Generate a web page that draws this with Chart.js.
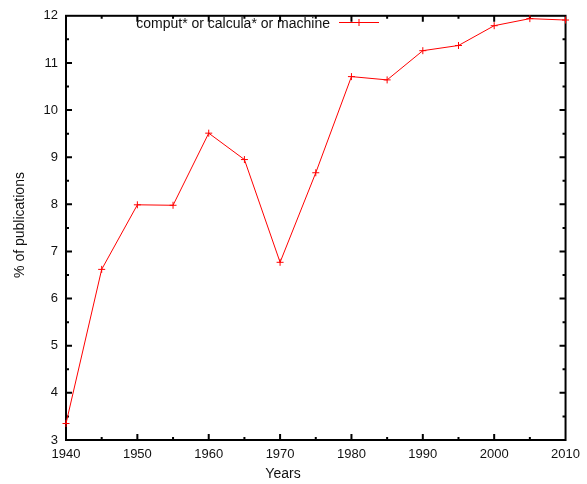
<!DOCTYPE html>
<html>
<head>
<meta charset="utf-8">
<script src="https://cdn.jsdelivr.net/npm/chart.js@4.4.0/dist/chart.umd.min.js"></script>
<style>
  html, body { margin: 0; padding: 0; background: #fff; }
  #wrap { width: 587px; height: 484px; }
</style>
</head>
<body>
<div id="wrap"><canvas id="myChart"></canvas></div>
<script>
'use strict';

const years = [1940, 1945, 1950, 1955, 1960, 1965, 1970, 1975, 1980, 1985, 1990, 1995, 2000, 2005, 2010];
const percentages = [3.35, 6.62, 7.99, 7.98, 9.51, 8.95, 6.77, 8.67, 10.71, 10.64, 11.26, 11.37, 11.79, 11.94, 11.91];
const seriesLabel = 'comput* or calcula* or machine';
const xTitle = 'Years';
const yTitle = '% of publications';
const xRange = [1940, 2010];
const yRange = [3, 12];

const FONT = '"Liberation Sans", Arial, Helvetica, sans-serif';
const ctx = document.getElementById('myChart');

// gnuplot look: thick border, inward ticks on all sides, key drawn by hand
const gnuplotFrame = {
  id: 'gnuplotFrame',
  beforeDatasetsDraw(chart) {
    const { ctx, chartArea: a, scales: { x, y } } = chart;
    ctx.save();
    ctx.strokeStyle = '#000';
    ctx.lineWidth = 2;
    ctx.strokeRect(a.left, a.top, a.right - a.left, a.bottom - a.top);

    ctx.beginPath();
    for (let v = xRange[0] + 5; v < xRange[1]; v += 5) {
      const px = x.getPixelForValue(v);
      const len = (v % 10 === 0) ? 6 : 3;
      ctx.moveTo(px, a.bottom); ctx.lineTo(px, a.bottom - len);
      ctx.moveTo(px, a.top); ctx.lineTo(px, a.top + len);
    }
    for (let v = yRange[0] + 0.5; v < yRange[1]; v += 0.5) {
      const py = y.getPixelForValue(v);
      const len = (v % 1 === 0) ? 6 : 3;
      ctx.moveTo(a.left, py); ctx.lineTo(a.left + len, py);
      ctx.moveTo(a.right, py); ctx.lineTo(a.right - len, py);
    }
    ctx.stroke();
    ctx.restore();
  },
  afterDraw(chart) {
    const { ctx } = chart;
    ctx.save();
    ctx.fillStyle = '#111';
    ctx.font = '14px ' + FONT;

    // axis titles
    ctx.textAlign = 'center';
    ctx.textBaseline = 'middle';
    ctx.fillText(xTitle, 283, 474);
    ctx.save();
    ctx.translate(20, 225);
    ctx.rotate(-Math.PI / 2);
    ctx.fillText(yTitle, 0, 0);
    ctx.restore();

    // key
    ctx.textAlign = 'right';
    ctx.fillText(seriesLabel, 330, 24.5);
    ctx.strokeStyle = '#ff0000';
    ctx.lineWidth = 1;
    ctx.beginPath();
    ctx.moveTo(339, 22.5); ctx.lineTo(379, 22.5);
    ctx.moveTo(359, 19); ctx.lineTo(359, 26);
    ctx.moveTo(355.5, 22.5); ctx.lineTo(362.5, 22.5);
    ctx.stroke();
    ctx.restore();
  }
};

const chartData = {
  datasets: [{
    label: seriesLabel,
    data: years.map((yr, i) => ({ x: yr, y: percentages[i] })),
    borderColor: '#ff0000',
    backgroundColor: '#ff0000',
    borderWidth: 1,
    pointStyle: 'cross',
    pointRadius: 3.5,
    pointBorderWidth: 1,
    pointBorderColor: '#ff0000',
    tension: 0,
    clip: false
  }]
};

new Chart(ctx, {
  type: 'line',
  data: chartData,
  plugins: [gnuplotFrame],
  options: {
    responsive: true,
    maintainAspectRatio: false,
    animation: false,
    layout: { padding: { left: 0, top: 9, right: 17, bottom: 0 } },
    plugins: {
      legend: { display: false },
      tooltip: { enabled: false }
    },
    scales: {
      x: {
        type: 'linear',
        min: xRange[0],
        max: xRange[1],
        grid: { display: false, drawTicks: false },
        border: { display: false },
        ticks: {
          stepSize: 10,
          padding: 7,
          color: '#111',
          font: { family: FONT, size: 13 },
          maxRotation: 0,
          callback: (v) => String(v)
        },
        afterFit(scale) { scale.height = 44; }
      },
      y: {
        type: 'linear',
        min: yRange[0],
        max: yRange[1],
        grid: { display: false, drawTicks: false },
        border: { display: false },
        ticks: {
          stepSize: 1,
          padding: 8,
          color: '#111',
          font: { family: FONT, size: 13 },
          callback: (v) => String(v)
        },
        afterFit(scale) { scale.width = 66; }
      }
    }
  }
});
</script>
</body>
</html>
